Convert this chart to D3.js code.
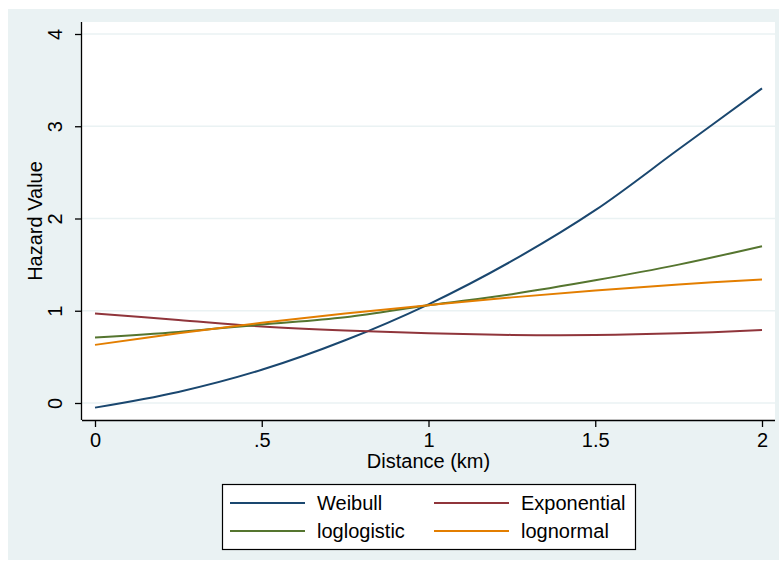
<!DOCTYPE html>
<html>
<head>
<meta charset="utf-8">
<script src="https://cdn.jsdelivr.net/npm/d3@7"></script>
<style>
  body { margin: 0; background: #fff; }
  svg text { font-family: "Liberation Sans", Arial, sans-serif; fill: #000; }
</style>
</head>
<body>
<div id="visualization"></div>
<script>
// distance grid (km) and hazard values
var distance    = [0, 0.25, 0.5, 0.75, 1, 1.25, 1.5, 1.75, 2];
var weibull     = [-0.05, 0.12, 0.36, 0.68, 1.07, 1.54, 2.09, 2.75, 3.41];
var exponential = [0.97, 0.90, 0.83, 0.785, 0.755, 0.738, 0.737, 0.755, 0.79];
var loglogistic = [0.71, 0.77, 0.85, 0.93, 1.06, 1.18, 1.33, 1.50, 1.70];
var lognormal   = [0.63, 0.755, 0.87, 0.97, 1.06, 1.145, 1.22, 1.285, 1.34];

var xTicks = [0, 0.5, 1, 1.5, 2];
var xTickLabels = ["0", ".5", "1", "1.5", "2"];
var yTicks = [0, 1, 2, 3, 4];

var series = [
  {name: "Weibull", values: weibull, color: "#1a476f"},
  {name: "Exponential", values: exponential, color: "#90353b"},
  {name: "loglogistic", values: loglogistic, color: "#55752f"},
  {name: "lognormal", values: lognormal, color: "#e37e00"}
];

var W = 781, H = 562;
var plot = {left: 82, right: 775, top: 22, bottom: 420};
var fontSize = "20px";

var svg = d3.select("#visualization").append("svg")
    .attr("width", W)
    .attr("height", H);

// outer graph region
svg.append("rect")
    .attr("x", 8).attr("y", 9)
    .attr("width", W - 10).attr("height", H - 11)
    .attr("fill", "#eaf2f3");

// plot region
svg.append("rect")
    .attr("x", plot.left).attr("y", plot.top)
    .attr("width", plot.right - plot.left).attr("height", plot.bottom - plot.top)
    .attr("fill", "#fff");

var x = d3.scaleLinear().domain([0, 2]).range([95, 762]);
var y = d3.scaleLinear().domain([0, 4]).range([403, 34]);

// gridlines
svg.selectAll(".grid")
    .data(yTicks)
    .enter().append("line")
    .attr("class", "grid")
    .attr("x1", plot.left).attr("x2", plot.right)
    .attr("y1", function(d) { return y(d); })
    .attr("y2", function(d) { return y(d); })
    .attr("stroke", "#eaf2f3")
    .attr("stroke-width", 1.6);

// x axis
var xAxis = svg.append("g")
    .attr("transform", "translate(0," + plot.bottom + ")")
    .call(d3.axisBottom(x)
        .tickValues(xTicks)
        .tickFormat(function(d, i) { return xTickLabels[i]; })
        .tickSize(7)
        .tickPadding(6));
xAxis.select(".domain")
    .attr("d", "M" + plot.left + ",0.5H" + plot.right)
    .attr("stroke", "#000").attr("stroke-width", 1.3);
xAxis.selectAll(".tick line").attr("stroke", "#000").attr("stroke-width", 1.3);
xAxis.selectAll(".tick text")
    .style("font-size", fontSize)
    .style("font-family", "Liberation Sans, Arial, sans-serif")
    .attr("fill", "#000");

// y axis
var yAxis = svg.append("g")
    .attr("transform", "translate(" + plot.left + ",0)")
    .call(d3.axisLeft(y)
        .tickValues(yTicks)
        .tickFormat(d3.format("d"))
        .tickSize(7));
yAxis.select(".domain")
    .attr("d", "M-0.5," + plot.top + "V" + plot.bottom)
    .attr("stroke", "#000").attr("stroke-width", 1.3);
yAxis.selectAll(".tick line").attr("stroke", "#000").attr("stroke-width", 1.3);
yAxis.selectAll(".tick text")
    .attr("x", null).attr("dy", null)
    .attr("text-anchor", "middle")
    .attr("transform", "translate(-20,0) rotate(-90)")
    .style("font-size", fontSize)
    .style("font-family", "Liberation Sans, Arial, sans-serif")
    .attr("fill", "#000");

// axis titles
svg.append("text")
    .attr("x", (plot.left + plot.right) / 2)
    .attr("y", 468)
    .attr("text-anchor", "middle")
    .style("font-size", fontSize)
    .text("Distance (km)");

svg.append("text")
    .attr("transform", "translate(42," + (plot.top + plot.bottom) / 2 + ") rotate(-90)")
    .attr("text-anchor", "middle")
    .style("font-size", fontSize)
    .text("Hazard Value");

// lines
var line = d3.line()
    .x(function(d) { return x(d[0]); })
    .y(function(d) { return y(d[1]); })
    .curve(d3.curveCatmullRom);

svg.selectAll(".series")
    .data(series)
    .enter().append("path")
    .attr("class", "series")
    .attr("d", function(s) {
        return line(distance.map(function(v, i) { return [v, s.values[i]]; }));
    })
    .attr("fill", "none")
    .attr("stroke", function(s) { return s.color; })
    .attr("stroke-width", 2);

// legend
var legend = svg.append("g");
legend.append("rect")
    .attr("x", 222.5).attr("y", 484.5)
    .attr("width", 413).attr("height", 65)
    .attr("fill", "#fff")
    .attr("stroke", "#000")
    .attr("stroke-width", 1.2);

var items = legend.selectAll(".item")
    .data(series)
    .enter().append("g")
    .attr("class", "item")
    .attr("transform", function(d, i) {
        return "translate(" + (i % 2 === 0 ? 230 : 434) + "," + (i < 2 ? 503 : 531) + ")";
    });
items.append("line")
    .attr("x1", 0).attr("x2", 75)
    .attr("stroke", function(d) { return d.color; })
    .attr("stroke-width", 2);
items.append("text")
    .attr("x", 87).attr("y", 7)
    .style("font-size", fontSize)
    .text(function(d) { return d.name; });
</script>
</body>
</html>
